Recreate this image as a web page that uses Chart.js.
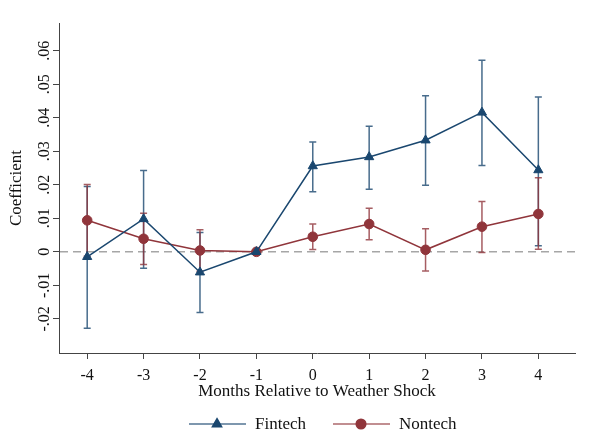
<!DOCTYPE html>
<html>
<head>
<meta charset="utf-8">
<script src="https://cdn.jsdelivr.net/npm/chart.js@4/dist/chart.umd.min.js"></script>
<style>
  html, body { margin: 0; padding: 0; background: #fff; }
  canvas { display: block; }
</style>
</head>
<body>
<canvas id="chart" width="606" height="442"></canvas>
<script>
// event-study coefficients
const months = [-4, -3, -2, -1, 0, 1, 2, 3, 4];
const fintechCoef = [-0.0015, 0.0098, -0.0061, 0, 0.0256, 0.0283, 0.0333, 0.0416, 0.0244];
const fintechLow = [-0.0228, -0.0049, -0.0181, 0, 0.0179, 0.0187, 0.0199, 0.0258, 0.0018];
const fintechHigh = [0.0195, 0.0243, 0.0058, 0, 0.0328, 0.0375, 0.0466, 0.0572, 0.0462];
const nontechCoef = [0.0094, 0.0039, 0.0004, 0, 0.0045, 0.0083, 0.0006, 0.0075, 0.0113];
const nontechLow = [-0.0013, -0.0038, -0.0058, 0, 0.0007, 0.0036, -0.0057, -0.0002, 0.0008];
const nontechHigh = [0.0201, 0.0115, 0.0066, 0, 0.0083, 0.0130, 0.0069, 0.0150, 0.0221];
const yTicks = [-0.02, -0.01, 0, 0.01, 0.02, 0.03, 0.04, 0.05, 0.06];

const BLUE = '#1a476f';
const RED = '#90353b';
const FONT = '"Liberation Serif", "DejaVu Serif", serif';

const fmt = (v) => {
  if (Math.abs(v) < 1e-9) return '0';
  return (v < 0 ? '-' : '') + Math.abs(v).toFixed(2).replace(/^0/, '');
};

const zeroLine = {
  id: 'zeroLine',
  beforeDatasetsDraw(chart) {
    const { ctx, chartArea, scales } = chart;
    const y = scales.y.getPixelForValue(0);
    ctx.save();
    ctx.strokeStyle = '#a6a6a6';
    ctx.lineWidth = 1.5;
    ctx.setLineDash([8, 5]);
    ctx.beginPath();
    ctx.moveTo(chartArea.left + 1, y);
    ctx.lineTo(chartArea.right, y);
    ctx.stroke();
    ctx.restore();
  },
};

const errorBars = {
  id: 'errorBars',
  beforeDatasetsDraw(chart) {
    const { ctx, scales } = chart;
    chart.data.datasets.forEach((ds) => {
      ctx.save();
      ctx.strokeStyle = ds.barColor;
      ctx.lineWidth = 1.5;
      ds.low.forEach((lo, i) => {
        const hi = ds.high[i];
        if (lo === hi) return;
        const x = scales.x.getPixelForValue(months[i]);
        const y1 = scales.y.getPixelForValue(lo);
        const y2 = scales.y.getPixelForValue(hi);
        ctx.beginPath();
        ctx.moveTo(x, y1);
        ctx.lineTo(x, y2);
        ctx.moveTo(x - 3.5, y1);
        ctx.lineTo(x + 3.5, y1);
        ctx.moveTo(x - 3.5, y2);
        ctx.lineTo(x + 3.5, y2);
        ctx.stroke();
      });
      ctx.restore();
    });
  },
};

const legendBox = {
  id: 'legendBox',
  afterDraw(chart) {
    const { ctx } = chart;
    const y = 424;
    const items = [
      { label: 'Fintech', color: BLUE, line: 'rgba(26,71,111,0.75)', style: 'triangle', x0: 189 },
      { label: 'Nontech', color: RED, line: 'rgba(144,53,59,0.75)', style: 'circle', x0: 333 },
    ];
    ctx.save();
    items.forEach((it) => {
      ctx.strokeStyle = it.line;
      ctx.lineWidth = 1.5;
      ctx.beginPath();
      ctx.moveTo(it.x0, y);
      ctx.lineTo(it.x0 + 57, y);
      ctx.stroke();
      ctx.fillStyle = it.color;
      ctx.strokeStyle = it.color;
      Chart.helpers.drawPoint(ctx, { pointStyle: it.style, radius: it.style === 'circle' ? 4.8 : 5.3, borderWidth: 1 }, it.x0 + 28, y);
      ctx.fillStyle = '#111';
      ctx.font = '17px ' + FONT;
      ctx.textBaseline = 'middle';
      ctx.textAlign = 'left';
      ctx.fillText(it.label, it.x0 + 66, y + 1);
    });
    ctx.restore();
  },
};

new Chart(document.getElementById('chart'), {
  type: 'line',
  data: {
    datasets: [
      {
        label: 'Fintech',
        data: months.map((m, i) => ({ x: m, y: fintechCoef[i] })),
        low: fintechLow,
        high: fintechHigh,
        barColor: 'rgba(26,71,111,0.8)',
        borderColor: BLUE,
        backgroundColor: BLUE,
        borderWidth: 1.5,
        pointStyle: 'triangle',
        pointRadius: 5.3,
        pointBorderWidth: 1,
        tension: 0,
      },
      {
        label: 'Nontech',
        data: months.map((m, i) => ({ x: m, y: nontechCoef[i] })),
        low: nontechLow,
        high: nontechHigh,
        barColor: 'rgba(144,53,59,0.8)',
        borderColor: RED,
        backgroundColor: RED,
        borderWidth: 1.5,
        pointStyle: 'circle',
        pointRadius: 4.8,
        pointBorderWidth: 1,
        tension: 0,
      },
    ],
  },
  options: {
    responsive: false,
    animation: false,
    events: [],
    layout: { padding: { left: 0, top: 23, right: 31, bottom: 0 } },
    plugins: { legend: { display: false }, tooltip: { enabled: false } },
    scales: {
      x: {
        type: 'linear',
        min: -4.5,
        max: 4.65,
        afterBuildTicks: (scale) => { scale.ticks = months.map((v) => ({ value: v })); },
        afterFit: (scale) => { scale.height = 89; },
        grid: { drawOnChartArea: false, drawTicks: true, tickLength: 6, color: '#444', lineWidth: 1 },
        border: { display: true, color: '#444', width: 1 },
        ticks: { color: '#111', font: { family: FONT, size: 16 }, padding: 7, maxRotation: 0, autoSkip: false },
        title: { display: true, text: 'Months Relative to Weather Shock', color: '#111', font: { family: FONT, size: 17 }, padding: { top: 0, bottom: 40 } },
      },
      y: {
        min: -0.0302,
        max: 0.0683,
        afterBuildTicks: (scale) => { scale.ticks = yTicks.map((v) => ({ value: v })); },
        afterFit: (scale) => { scale.width = 59; },
        grid: { drawOnChartArea: false, drawTicks: true, tickLength: 6, color: '#444', lineWidth: 1 },
        border: { display: true, color: '#444', width: 1 },
        ticks: { color: '#111', font: { family: FONT, size: 16 }, minRotation: 90, maxRotation: 90, crossAlign: 'center', padding: -4, callback: (v) => fmt(v), autoSkip: false },
        title: { display: true, text: 'Coefficient', color: '#111', font: { family: FONT, size: 17 }, padding: { top: 6, bottom: 0 } },
      },
    },
  },
  plugins: [zeroLine, errorBars, legendBox],
});
</script>
</body>
</html>
